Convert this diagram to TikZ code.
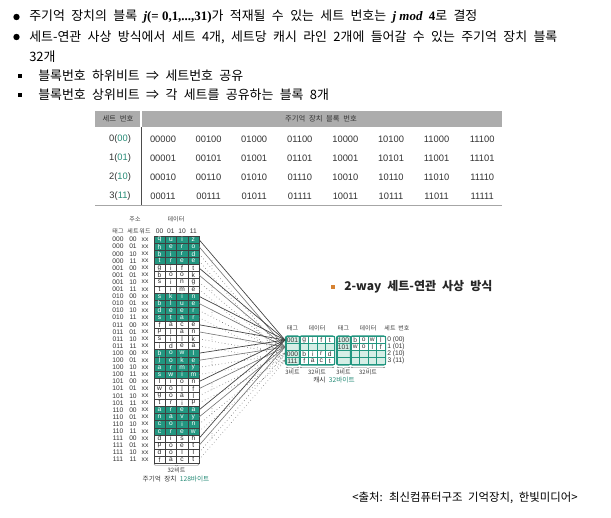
\documentclass[tikz,border=0pt]{standalone}
\usepackage{fontspec}
\setmainfont{Noto Sans CJK KR}
\newfontfamily\kr[WordSpace=2.2]{Noto Sans CJK KR}
\newfontfamily\ser{Liberation Serif}
\newfontfamily\ari{Liberation Sans}
\usetikzlibrary{decorations.pathreplacing}
\definecolor{tealc}{RGB}{34,150,128}
\definecolor{tealt}{RGB}{40,140,120}
\definecolor{mint}{RGB}{214,238,230}
\definecolor{hdrgray}{RGB}{172,172,172}
\definecolor{orng}{RGB}{214,130,50}
\tikzset{
  body/.style={anchor=west, inner sep=0pt, font=\kr\fontsize{9.7}{11}\selectfont},
  tbl/.style={inner sep=0pt, font=\ari\fontsize{7}{8}\selectfont, text=black!80},
  tblhdr/.style={inner sep=0pt, font=\kr\fontsize{5.5}{6}\selectfont, text=black!80},
  tiny/.style={inner sep=0pt, font=\ari\fontsize{5}{5}\selectfont, text=black!80},
  tinykr/.style={inner sep=0pt, font=\kr\fontsize{4.5}{5}\selectfont, text=black!75},
  memline/.style={draw=black!75, line width=0.3pt},
  cline/.style={draw=tealc, line width=0.3pt},
  conn0/.style={draw=black!75, line width=0.5pt},
  conn1/.style={draw=black!55, line width=0.45pt},
  conn2/.style={draw=black!60, line width=0.45pt, dotted},
  conn3/.style={draw=black!50, line width=0.45pt, dotted},
  brc/.style={draw=black!60, line width=0.35pt, decorate, decoration={brace, mirror, amplitude=1.1pt}}
}
\begin{document}
\begin{tikzpicture}[x=0.75pt,y=-0.75pt]
\useasboundingbox (0,0) rectangle (611,518);
\fill[white] (0,0) rectangle (611,518);

% ---------- top text ----------
\fill (16.5,17) circle (3.2);
\node[body] (l1) at (29,17) {주기억 장치의 블록 {\ser\bfseries\itshape j}{\ser\bfseries (= 0,1,...,31)}가 적재될 수 있는 세트 번호는 {\ser\bfseries\itshape j mod} {\ser\bfseries 4}로 결정};
\fill (16.5,37) circle (3.2);
\node[body] (l2) at (29,37) {세트-연관 사상 방식에서 세트 4개, 세트당 캐시 라인 2개에 들어갈 수 있는 주기억 장치 블록};
\node[body] (l3) at (29,57) {32개};
\fill (18,74) rectangle (22,78);
\node[body] (l4) at (38,76) {블록번호 하위비트 ⇒ 세트번호 공유};
\fill (18,93) rectangle (22,97);
\node[body] (l5) at (38,95) {블록번호 상위비트 ⇒ 각 세트를 공유하는 블록 8개};

% ---------- table ----------
\fill[hdrgray] (95,111) rectangle (502,127);
\draw[white, line width=1.2pt] (141,111) -- (141,127);
\node[tblhdr] (th1) at (118,119) {세트 번호};
\node[tblhdr] (th2) at (321,119) {주기억 장치 블록 번호};
\draw[black!70, line width=0.6pt] (141,127) -- (141,205);
\draw[black!35, line width=0.6pt] (95,205) -- (502,205);
\foreach \r/\lab/\bits/\va/\vb/\vc/\vd/\ve/\vf/\vg/\vh [count=\k from 0] in {
  0/0/00/00000/00100/01000/01100/10000/10100/11000/11100,
  1/1/01/00001/00101/01001/01101/10001/10101/11001/11101,
  2/2/10/00010/00110/01010/01110/10010/10110/11010/11110,
  3/3/11/00011/00111/01011/01111/10011/10111/11011/11111}{
  \pgfmathsetmacro\yy{139+19*\k}
  \node[tbl] (s\k) at (120,\yy) {\lab(\textcolor{tealt}{\bits})};
  \foreach \v [count=\c from 0] in {\va,\vb,\vc,\vd,\ve,\vf,\vg,\vh}{
    \node[tbl] (t\k-\c) at ({163+45.6*\c},\yy) {\v};
  }
}

% ---------- main memory ----------
\node[tinykr] (addr) at (135,219) {주소};
\node[tinykr] (dat) at (176,219) {데이터};
\node[tinykr] (h1) at (118,231) {태그};
\node[tinykr] (h2) at (133,231) {세트};
\node[tinykr] (h3) at (145,231) {워드};
\node[tiny] (h4) at (159.6,231) {00};
\node[tiny] (h5) at (170.9,231) {01};
\node[tiny] (h6) at (182.1,231) {10};
\node[tiny] (h7) at (193.4,231) {11};
\foreach \t/\s/\a/\b/\c/\d [count=\n from 0] in {
 000/00/q/u/i/z, 000/01/h/e/r/o, 000/10/b/i/r/d, 000/11/t/r/e/e,
 001/00/g/i/f/t, 001/01/b/o/o/k, 001/10/s/i/n/g, 001/11/t/i/m/e,
 010/00/s/k/i/n, 010/01/b/l/u/e, 010/10/d/e/e/r, 010/11/s/t/a/r,
 011/00/f/a/c/e, 011/01/p/l/a/n, 011/10/s/i/l/k, 011/11/i/d/e/a,
 100/00/b/o/w/l, 100/01/j/o/k/e, 100/10/a/r/m/y, 100/11/s/w/i/m,
 101/00/l/i/o/n, 101/01/w/o/l/f, 101/10/g/o/a/l, 101/11/t/r/i/p,
 110/00/a/r/e/a, 110/01/n/a/v/y, 110/10/c/o/i/n, 110/11/c/r/e/w,
 111/00/d/i/s/h, 111/01/p/o/e/t, 111/10/d/o/l/l, 111/11/f/a/c/t}{
  \pgfmathsetmacro\y{236+7.1*\n}
  \pgfmathsetmacro\yc{\y+3.55}
  \pgfmathtruncatemacro\g{mod(int(\n/4),2)}
  \ifnum\g=0
    \def\cf{tealc}\def\tc{white}
  \else
    \def\cf{white}\def\tc{black!85}
  \fi
  \foreach \col in {0,1,2,3}{
    \draw[memline, fill=\cf] ({154+11.25*\col},\y) rectangle ++(11.25,7.1);
  }
  \node[tiny] (ta\n) at (118,\yc) {\t};
  \node[tiny] (se\n) at (133,\yc) {\s};
  \node[tiny] (wd\n) at (145,\yc) {xx};
  \node[tiny, text=\tc] (da\n) at (159.6,\yc) {\a};
  \node[tiny, text=\tc] (db\n) at (170.9,\yc) {\b};
  \node[tiny, text=\tc] (dc\n) at (182.1,\yc) {\c};
  \node[tiny, text=\tc] (dd\n) at (193.4,\yc) {\d};
  \coordinate (m\n) at (199,\yc);
}
\draw[brc] (154,464.5) -- (199,464.5);
\node[tinykr] (b32) at (176.5,470) {32비트};
\node[inner sep=0pt, font=\kr\fontsize{5}{6}\selectfont] (mm) at (176,479.5) {\textcolor{black!80}{주기억 장치} \textcolor{tealt}{128바이트}};
% vertical dots
\foreach \k in {0,...,7}{
  \pgfmathsetmacro\yd{263+24.7*\k}
  \foreach \dd in {-2.6,0,2.6}{ \fill[black!45] (212,\yd+\dd) circle (0.45); }
}

% ---------- cache ----------
\fill[orng] (330.5,284.5) rectangle (335,289);
\node[anchor=west, inner sep=0pt, font=\kr\bfseries\fontsize{9}{11}\selectfont, text=black!85] (ctitle) at (344,287) {2-way 세트-연관 사상 방식};
\node[tinykr] (ch1) at (292.5,328) {태그};
\node[tinykr] (ch2) at (317,328) {데이터};
\node[tinykr] (ch3) at (343.5,328) {태그};
\node[tinykr] (ch4) at (368,328) {데이터};
\node[tinykr] (ch5) at (397,328) {세트 번호};
% way cells
\foreach \k/\taga/\aa/\ab/\ac/\ad/\tagb/\ba/\bb/\bc/\bd/\lab in {
  0/001/g/i/f/t/100/b/o/w/l/{0 (00)},
  1/{}/{}/{}/{}/{}/101/w/o/l/f/{1 (01)},
  2/000/b/i/r/d/{}/{}/{}/{}/{}/{2 (10)},
  3/111/f/a/c/t/{}/{}/{}/{}/{}/{3 (11)}}{
  \pgfmathsetmacro\y{336.5+7*\k}
  \pgfmathsetmacro\yc{\y+3.5}
  \draw[cline, fill=mint] (286,\y) rectangle ++(13,7);
  \draw[cline, fill=mint] (337,\y) rectangle ++(13,7);
  \node[tiny] (cta\k) at (292.5,\yc) {\taga};
  \node[tiny] (ctb\k) at (343.5,\yc) {\tagb};
  \foreach \col/\la/\lb in {0/\aa/\ba,1/\ab/\bb,2/\ac/\bc,3/\ad/\bd}{
    \edef\tmpa{\la}\edef\tmpb{\lb}
    \ifx\tmpa\empty \def\fa{mint}\else\def\fa{white}\fi
    \ifx\tmpb\empty \def\fb{mint}\else\def\fb{white}\fi
    \draw[cline, fill=\fa] ({300+8.5*\col},\y) rectangle ++(8.5,7);
    \draw[cline, fill=\fb] ({351+8.5*\col},\y) rectangle ++(8.5,7);
    \node[tiny] at ({304.25+8.5*\col},\yc) {\la};
    \node[tiny] at ({355.25+8.5*\col},\yc) {\lb};
  }
  \node[tiny] (sl\k) at (396,\yc) {\lab};
}
\foreach \xa/\xb in {286/299,300/334,337/350,351/385}{
  \draw[tealc, line width=0.7pt, rounded corners=1.5pt] (\xa-0.6,335.9) rectangle (\xb+0.6,365.1);
}
\draw[brc] (286,367) -- (299,367);
\draw[brc] (300,367) -- (334,367);
\draw[brc] (337,367) -- (350,367);
\draw[brc] (351,367) -- (385,367);
\node[tinykr] (cb1) at (292.5,372) {3비트};
\node[tinykr] (cb2) at (317,372) {32비트};
\node[tinykr] (cb3) at (343.5,372) {3비트};
\node[tinykr] (cb4) at (368,372) {32비트};
\node[inner sep=0pt, font=\kr\fontsize{5}{6}\selectfont] (cc) at (334,380.5) {\textcolor{black!80}{캐시} \textcolor{tealt}{32바이트}};

\coordinate (c0) at (285,340);
\coordinate (c1) at (285,347);
\coordinate (c2) at (285,354);
\coordinate (c3) at (285,361);
\foreach \n in {0,...,31}{
  \pgfmathtruncatemacro\k{mod(\n,4)}
  \draw[conn\k] (m\n) -- (c\k);
}

% ---------- caption ----------
\node[anchor=west, inner sep=0pt, font=\kr\fontsize{8.55}{10}\selectfont] (src) at (352,498) {<출처: 최신컴퓨터구조 기억장치, 한빛미디어>};
\end{tikzpicture}
\end{document}
